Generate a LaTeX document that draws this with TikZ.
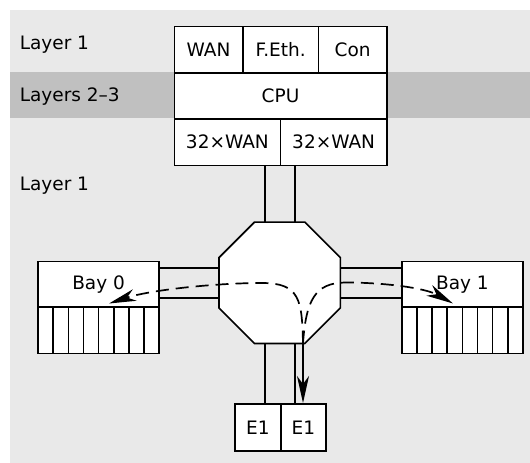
\documentclass[tikz,border=0pt]{standalone}
\usepackage{fontspec}
\setmainfont{DejaVu Sans}
\usetikzlibrary{arrows.meta,shapes.geometric,calc}
\definecolor{bgl}{RGB}{233,233,233}
\definecolor{bandc}{RGB}{192,192,192}
\begin{document}
\begin{tikzpicture}[x=1pt,y=-1pt, line width=1.6pt,
  every node/.style={font=\fontsize{18.5}{20}\selectfont},
  cell/.style={draw, fill=white, inner sep=0pt, anchor=north west},
  lbl/.style={anchor=base west, inner sep=0pt},
  tipstyle/.style={-{Stealth[length=27pt,width=12pt,inset=8pt]}},
  flow/.style={line width=1.7pt, dash pattern=on 13pt off 7pt, tipstyle},
  solidflow/.style={line width=1.7pt, tipstyle},
  chan/.style={line width=1.6pt}
]
\useasboundingbox (0,0) rectangle (530,463);
\fill[bgl] (10,10) rectangle (530,463);
\fill[bandc] (10,72) rectangle (530,117.5);

\node[lbl] (l1) at (19,49.3) {Layer 1};
\node[lbl] (l23) at (19,101) {Layers 2–3};
\node[lbl] (l1b) at (19,190.5) {Layer 1};

% top box
\node[cell, minimum width=68.5pt, minimum height=46.5pt] (wan) at (173.5,25.5) {WAN};
\node[cell, minimum width=75.7pt, minimum height=46.5pt] (feth) at (242,25.5) {F.Eth.};
\node[cell, minimum width=68.3pt, minimum height=46.5pt] (con) at (317.7,25.5) {Con};
\node[cell, minimum width=212.5pt, minimum height=46pt] (cpu) at (173.5,72) {CPU};
\node[cell, minimum width=106.2pt, minimum height=46.5pt] (wanA) at (173.5,118) {32×WAN};
\node[cell, minimum width=106.3pt, minimum height=46.5pt] (wanB) at (279.7,118) {32×WAN};

% switch centre
\coordinate (c) at (279.7,282.75);
% channels
\draw[chan] ([xshift=-15pt]c |- wanA.south) -- ([xshift=-15pt]c |- 0,240);
\draw[chan] ([xshift=15pt]c |- wanA.south) -- ([xshift=15pt]c |- 0,240);

% bays
\node[cell, minimum width=121pt, minimum height=45.6pt] (bay0) at (37.3,260.6) {Bay 0};
\foreach \i in {0,...,7}
  \node[cell, minimum width=15.125pt, minimum height=46.3pt] (bza\i) at ({37.3+15.125*\i},306.2) {};
\node[cell, minimum width=121pt, minimum height=45.6pt] (bay1) at (401.1,260.6) {Bay 1};
\foreach \i in {0,...,7}
  \node[cell, minimum width=15.125pt, minimum height=46.3pt] (bzb\i) at ({401.1+15.125*\i},306.2) {};

% E1
\node[cell, minimum width=45.7pt, minimum height=47pt] (e1a) at (234.2,403) {E1};
\node[cell, minimum width=45.3pt, minimum height=47pt] (e1b) at (279.9,403) {E1};

\draw[chan] ([yshift=15pt]bay0.east |- c) -- ([yshift=15pt]c);
\draw[chan] ([yshift=-15pt]bay0.east |- c) -- ([yshift=-15pt]c);
\draw[chan] ([yshift=15pt]bay1.west |- c) -- ([yshift=15pt]c);
\draw[chan] ([yshift=-15pt]bay1.west |- c) -- ([yshift=-15pt]c);
\draw[chan] ([xshift=-15pt]c) -- ([xshift=-15pt]c |- e1a.north);
\draw[chan] ([xshift=15pt]c) -- ([xshift=15pt]c |- e1a.north);

\node[draw, fill=white, regular polygon, regular polygon sides=8, minimum size=131.4pt, inner sep=0pt] (sw) at (c) {};

% flows
\coordinate (S) at (303,343.5);
\coordinate (tipL) at (109,303.5);
\coordinate (tipR) at (453,303.5);
\draw[flow] (S) .. controls (302,300) and (300,283) .. (262,283) .. controls (215,283) and (150,290) .. (tipL);
\draw[flow] (S) .. controls (306,300) and (315,283) .. (345,282.5) .. controls (385,282.5) and (425,288) .. (tipR);
\draw[solidflow] (S) -- (S |- e1b.north);
\end{tikzpicture}
\end{document}
